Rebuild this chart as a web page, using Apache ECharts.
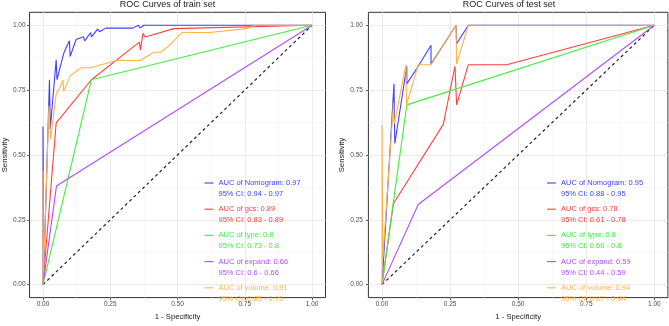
<!DOCTYPE html>
<html>
<head>
<meta charset="utf-8">
<script src="https://cdn.jsdelivr.net/npm/echarts@6.0.0/dist/echarts.min.js"></script>
<style>
  html, body { margin: 0; padding: 0; background: #fff; }
  #main { width: 669px; height: 326px; }
</style>
</head>
<body>
<div id="main"></div>
<script>
  // model names and colours (same order in both panels)
  const models = ['Nomogram', 'gcs', 'type', 'expand', 'volume'];
  const colors = ['#3f3fff', '#ff4040', '#40f040', '#b04dff', '#ffb347'];

  // train set: AUC and 95% CI
  const trainAuc = [0.97, 0.89, 0.8, 0.66, 0.91];
  const trainCiLow = [0.94, 0.83, 0.73, 0.6, 0.85];
  const trainCiHigh = [0.97, 0.89, 0.8, 0.66, 0.91];

  // test set: AUC and 95% CI
  const testAuc = [0.95, 0.78, 0.8, 0.59, 0.94];
  const testCiLow = [0.88, 0.61, 0.66, 0.44, 0.87];
  const testCiHigh = [0.95, 0.78, 0.8, 0.59, 0.94];

  // ROC points [1 - specificity, sensitivity]
  const trainNomogram = [[0, 0], [0, 0.61], [0.003, 0.05], [0.024, 0.79], [0.027, 0.6], [0.049, 0.867], [0.052, 0.79],
    [0.074, 0.88], [0.08, 0.9], [0.098, 0.94], [0.101, 0.88], [0.123, 0.945], [0.15, 0.956], [0.155, 0.94],
    [0.177, 0.972], [0.18, 0.955], [0.203, 0.985], [0.21, 0.975], [0.233, 0.989], [0.333, 0.989], [0.355, 1],
    [0.36, 0.989], [0.375, 1], [0.79, 1], [1, 1]];
  const trainGcs = [[0, 0], [0.049, 0.624], [0.18, 0.79], [0.358, 0.935], [0.362, 0.905], [0.372, 0.969],
    [0.38, 0.955], [0.486, 0.987], [1, 1]];
  const trainType = [[0, 0], [0.18, 0.79], [1, 1]];
  const trainExpand = [[0, 0], [0.05, 0.38], [1, 1]];
  const trainVolume = [[0, 0], [0, 0.44], [0.002, 0.05], [0.022, 0.69], [0.028, 0.56], [0.049, 0.736], [0.06, 0.755],
    [0.074, 0.789], [0.077, 0.745], [0.101, 0.805], [0.142, 0.836], [0.177, 0.836], [0.272, 0.864], [0.361, 0.864],
    [0.413, 0.896], [0.437, 0.896], [0.464, 0.917], [0.516, 0.972], [0.62, 0.972], [0.755, 0.987], [0.79, 1], [1, 1]];

  const testNomogram = [[0, 0], [0.044, 0.774], [0.047, 0.544], [0.091, 0.842], [0.091, 0.774], [0.133, 0.842],
    [0.18, 0.923], [0.18, 0.85], [0.272, 1], [0.274, 0.929], [0.317, 1], [1, 1]];
  const testGcs = [[0, 0], [0.042, 0.313], [0.225, 0.618], [0.268, 0.842], [0.274, 0.693], [0.317, 0.848],
    [0.458, 0.848], [1, 1]];
  const testType = [[0, 0], [0.091, 0.693], [1, 1]];
  const testExpand = [[0, 0], [0.133, 0.309], [1, 1]];
  const testVolume = [[0, 0], [0, 0.615], [0.003, 0.1], [0.042, 0.7], [0.045, 0.62], [0.088, 0.848], [0.09, 0.693],
    [0.133, 0.848], [0.18, 0.848], [0.272, 1], [0.274, 0.85], [0.317, 1], [1, 1]];

  const diagonal = [[0, 0], [1, 1]];
  const majorTicks = [0, 0.25, 0.5, 0.75, 1];
  const minorTicks = [0.125, 0.375, 0.625, 0.875];

  const trainCurves = [trainNomogram, trainGcs, trainType, trainExpand, trainVolume];
  const testCurves = [testNomogram, testGcs, testType, testExpand, testVolume];

  const font = 'Liberation Sans';

  const aucName = (m, auc) => 'AUC of ' + m + ': ' + auc;
  const trainNames = models.map((m, i) => aucName(m, trainAuc[i]));
  const testNames = models.map((m, i) => aucName(m, testAuc[i]));
  const trainCi = {};
  trainNames.forEach((n, i) => { trainCi[n] = '95% CI: ' + trainCiLow[i] + ' - ' + trainCiHigh[i]; });
  const testCi = {};
  testNames.forEach((n, i) => { testCi[n] = '95% CI: ' + testCiLow[i] + ' - ' + testCiHigh[i]; });

  function majorX(gridIndex) {
    return {
      type: 'value', gridIndex: gridIndex, min: -0.05, max: 1.05, position: 'bottom',
      axisLine: { show: false, onZero: false },
      axisTick: { show: true, length: 2.5, customValues: majorTicks, lineStyle: { color: '#333', width: 0.8 } },
      axisLabel: { customValues: majorTicks, formatter: v => v.toFixed(2), fontSize: 6.5, color: '#4d4d4d', margin: 3.5, fontFamily: font },
      splitLine: { show: true, lineStyle: { color: '#ebebeb', width: 1 } },
      name: '1 - Specificity', nameLocation: 'middle', nameGap: 12,
      nameTextStyle: { fontSize: 7.7, color: '#1a1a1a', fontFamily: font }
    };
  }
  function minorX(gridIndex) {
    return {
      type: 'value', gridIndex: gridIndex, min: -0.05, max: 1.05, position: 'bottom',
      axisLine: { show: false, onZero: false },
      axisTick: { show: false, customValues: minorTicks },
      axisLabel: { show: false },
      splitLine: { show: true, lineStyle: { color: '#f2f2f2', width: 0.6 } }
    };
  }
  function majorY(gridIndex, margin, nameGap) {
    return {
      type: 'value', gridIndex: gridIndex, min: -0.05, max: 1.05, position: 'left',
      axisLine: { show: false, onZero: false },
      axisTick: { show: true, length: 2.5, customValues: majorTicks, lineStyle: { color: '#333', width: 0.8 } },
      axisLabel: { customValues: majorTicks, formatter: v => v.toFixed(2), fontSize: 6.5, color: '#4d4d4d', margin: margin, fontFamily: font },
      splitLine: { show: true, lineStyle: { color: '#ebebeb', width: 1 } },
      name: 'Sensitivity', nameLocation: 'middle', nameGap: nameGap,
      nameTextStyle: { fontSize: 7.7, color: '#1a1a1a', fontFamily: font }
    };
  }
  function minorY(gridIndex) {
    return {
      type: 'value', gridIndex: gridIndex, min: -0.05, max: 1.05, position: 'left',
      axisLine: { show: false, onZero: false },
      axisTick: { show: false, customValues: minorTicks },
      axisLabel: { show: false },
      splitLine: { show: true, lineStyle: { color: '#f2f2f2', width: 0.6 } }
    };
  }

  function curveSeries(names, curves, axisIndex) {
    const list = [{
      type: 'line', xAxisIndex: axisIndex, yAxisIndex: axisIndex, data: diagonal,
      symbol: 'none', silent: true, z: 2,
      lineStyle: { color: '#222', width: 1.2, type: [3, 3] }
    }];
    curves.forEach((pts, i) => {
      list.push({
        name: names[i], type: 'line', xAxisIndex: axisIndex, yAxisIndex: axisIndex,
        data: pts, symbol: 'none', color: colors[i], z: 3,
        lineStyle: { color: colors[i], width: 1.1 }
      });
    });
    return list;
  }

  function legendFor(names, ci, left) {
    return {
      orient: 'vertical', left: left, top: 166.5, padding: 0, itemGap: -6.8,
      icon: 'rect', itemWidth: 9, itemHeight: 1.1, selectedMode: false,
      data: names.map((n, i) => ({ name: n, textStyle: { color: colors[i] } })),
      formatter: name => '\n' + name + '\n' + ci[name],
      textStyle: { fontSize: 7.5, lineHeight: 11, fontFamily: font }
    };
  }

  const chart = echarts.init(document.getElementById('main'), null, { renderer: 'canvas' });
  const option = {
    animation: false,
    backgroundColor: '#fff',
    title: [
      { text: 'ROC Curves of train set', left: 167.5, top: 5, padding: 0, textAlign: 'center', textVerticalAlign: 'middle',
        textStyle: { fontSize: 9, fontWeight: 'normal', color: '#1a1a1a', fontFamily: font } },
      { text: 'ROC Curves of test set', left: 509, top: 5, padding: 0, textAlign: 'center', textVerticalAlign: 'middle',
        textStyle: { fontSize: 9, fontWeight: 'normal', color: '#1a1a1a', fontFamily: font } }
    ],
    grid: [
      { left: 25.5, top: 12.3, width: 300, height: 295, show: true, borderColor: '#333', borderWidth: 1, backgroundColor: 'transparent' },
      { left: 368.4, top: 12.3, width: 299.5, height: 295, show: true, borderColor: '#333', borderWidth: 1, backgroundColor: 'transparent' }
    ],
    xAxis: [majorX(0), minorX(0), majorX(1), minorX(1)],
    yAxis: [majorY(0, 4, 17), minorY(0), majorY(1, 5.5, 18), minorY(1)],
    legend: [legendFor(trainNames, trainCi, 204.5), legendFor(testNames, testCi, 547)],
    series: curveSeries(trainNames, trainCurves, 0).concat(curveSeries(testNames, testCurves, 2))
  };
  chart.setOption(option);
</script>
</body>
</html>
